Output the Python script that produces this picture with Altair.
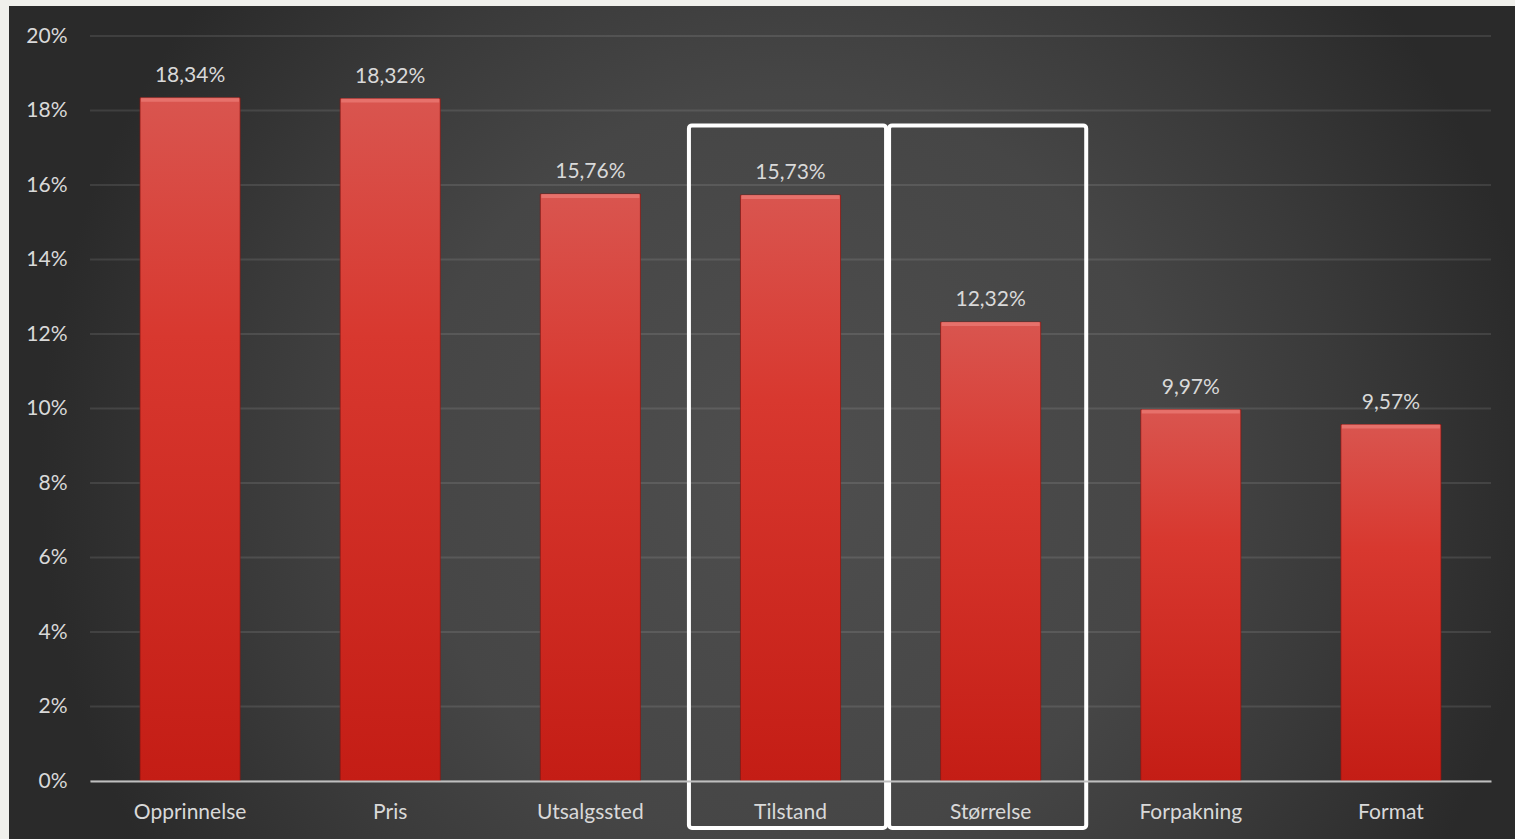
import altair as alt
import pandas as pd

categories = ["Opprinnelse", "Pris", "Utsalgssted", "Tilstand", "Størrelse", "Forpakning", "Format"]
values = [18.34, 18.32, 15.76, 15.73, 12.32, 9.97, 9.57]
value_labels = ["18,34%", "18,32%", "15,76%", "15,73%", "12,32%", "9,97%", "9,57%"]
y_ticks = [0, 2, 4, 6, 8, 10, 12, 14, 16, 18, 20]
highlight = ["Tilstand", "Størrelse"]
highlight_top = [17.6, 17.6]
highlight_bottom = [-1.26, -1.26]

df = pd.DataFrame({"cat": categories, "val": values, "label": value_labels})
hl = pd.DataFrame({"cat": highlight, "top": highlight_top, "bottom": highlight_bottom})
grid = pd.DataFrame({"t": y_ticks})
bgdf = pd.DataFrame({"k": [0]})

W, H = 1401, 745
FONT = "Lato"
TXT = "#d9d9d9"

xscale = alt.Scale(domain=categories, paddingInner=0.5, paddingOuter=0.25)
yscale = alt.Scale(domain=[0, 20], nice=False, zero=True)

xaxis = alt.Axis(
    labelFont=FONT, labelFontSize=21, labelColor=TXT, labelAngle=0,
    labelPadding=20, ticks=False, domainColor="#bfbfbf", domainWidth=2,
    grid=False, zindex=1, title=None,
)
yaxis = alt.Axis(
    values=y_ticks, labelExpr="datum.value + '%'", labelFont=FONT,
    labelFontSize=21, labelColor=TXT, ticks=False, domain=False,
    grid=False, labelPadding=23, zindex=1, title=None,
)

radial = {
    "gradient": "radial",
    "x1": 0.52, "y1": 0.53, "x2": 0.52, "y2": 0.53, "r1": 0, "r2": 0.5,
    "stops": [
        {"offset": 0, "color": "#4e4e4e"},
        {"offset": 0.5, "color": "#464646"},
        {"offset": 0.73, "color": "#3a3a3a"},
        {"offset": 1, "color": "#2a2a2a"},
    ],
}

bar_grad = {
    "gradient": "linear",
    "x1": 0, "y1": 0, "x2": 0, "y2": 1,
    "stops": [
        {"offset": 0, "color": "#d9554f"},
        {"offset": 0.35, "color": "#d8382f"},
        {"offset": 1, "color": "#c41d15"},
    ],
}

background = alt.Chart(bgdf).mark_rect(fill=radial).encode(
    x=alt.value(-81), x2=alt.value(W + 24), y=alt.value(-30), y2=alt.value(H + 58)
)

gridlines = alt.Chart(grid).mark_rule(color="#ffffff", opacity=0.1, strokeWidth=2).encode(
    y=alt.Y("t:Q", scale=yscale, axis=yaxis)
)

boxes = alt.Chart(hl).mark_bar(
    filled=False, stroke="#ffffff", strokeWidth=4, cornerRadius=3,
    width={"band": 1.97}, xOffset=-3,
).encode(
    x=alt.X("cat:N", scale=xscale, sort=categories, axis=xaxis),
    y=alt.Y("top:Q", scale=yscale, axis=yaxis),
    y2="bottom:Q",
)

bars = alt.Chart(df).mark_bar(
    fill=bar_grad, stroke="#8a1410", strokeWidth=1, strokeOpacity=0.7
).encode(
    x=alt.X("cat:N", scale=xscale, sort=categories, axis=xaxis),
    y=alt.Y("val:Q", scale=yscale, axis=yaxis),
)

bevel = alt.Chart(df).mark_tick(color="#ec7d78", thickness=4, size=98, yOffset=2).encode(
    x=alt.X("cat:N", scale=xscale, sort=categories, axis=xaxis),
    y=alt.Y("val:Q", scale=yscale, axis=yaxis),
)

labels = alt.Chart(df).mark_text(
    font=FONT, fontSize=21, color=TXT, baseline="bottom", dy=-12
).encode(
    x=alt.X("cat:N", scale=xscale, sort=categories, axis=xaxis),
    y=alt.Y("val:Q", scale=yscale, axis=yaxis),
    text="label:N",
)

chart = alt.layer(background, gridlines, boxes, bars, bevel, labels).properties(
    width=W, height=H,
    autosize=alt.AutoSizeParams(type="none"),
    padding={"left": 90, "top": 36, "right": 24, "bottom": 58},
    background="#f0f0ec",
).configure_view(stroke=None)

chart.save("out.html", embed_options={"renderer": "svg", "actions": False})
